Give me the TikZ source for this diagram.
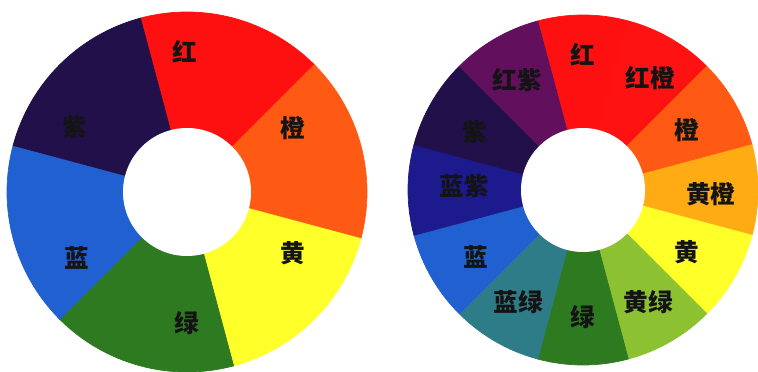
\documentclass[tikz,border=0pt]{standalone}
\usepackage{fontspec}
\newfontfamily\cjk{Noto Sans CJK SC}
\definecolor{hongL}{HTML}{FF1010}
\definecolor{chengL}{HTML}{FF5A14}
\definecolor{huangL}{HTML}{FFFF2A}
\definecolor{lvL}{HTML}{2D7A20}
\definecolor{lanL}{HTML}{2060D0}
\definecolor{ziL}{HTML}{22104A}
\definecolor{hongcheng}{HTML}{FF1212}
\definecolor{huangcheng}{HTML}{FFAC14}
\definecolor{huanglv}{HTML}{8CC232}
\definecolor{lanlv}{HTML}{2E7C88}
\definecolor{lanzi}{HTML}{1C1A8C}
\definecolor{hongzi}{HTML}{62105E}
\tikzset{
  seg/.style={fill=#1, draw=#1, line width=0.4pt},
  lbl/.style={font=\cjk\bfseries\fontsize{14}{14}\selectfont, text=black!92, inner sep=0pt}
}
\begin{document}
\begin{tikzpicture}
\useasboundingbox (0,0) rectangle (15.16,7.42);
% left wheel, six hues
\begin{scope}[shift={(3.74,3.58)}]
\filldraw[seg=hongL] (0,0) -- (105:3.6) arc[start angle=105,end angle=45,radius=3.6] -- cycle;
\filldraw[seg=chengL] (0,0) -- (45:3.6) arc[start angle=45,end angle=-15,radius=3.6] -- cycle;
\filldraw[seg=huangL] (0,0) -- (-15:3.6) arc[start angle=-15,end angle=-75,radius=3.6] -- cycle;
\filldraw[seg=lvL] (0,0) -- (-75:3.6) arc[start angle=-75,end angle=-135,radius=3.6] -- cycle;
\filldraw[seg=lanL] (0,0) -- (-135:3.6) arc[start angle=-135,end angle=-195,radius=3.6] -- cycle;
\filldraw[seg=ziL] (0,0) -- (165:3.6) arc[start angle=165,end angle=105,radius=3.6] -- cycle;
\fill[white] (0,0) circle (1.28);
\node[lbl] (lhong) at (91:2.8) {红};
\node[lbl] (lcheng) at (31:2.48) {橙};
\node[lbl] (lhuang) at (-30:2.44) {黄};
\node[lbl] (llv) at (-90:2.62) {绿};
\node[lbl] (llan) at (-149:2.56) {蓝};
\node[lbl] (lzi) at (150:2.58) {紫};
\end{scope}
% right wheel, twelve hues
\begin{scope}[shift={(11.66,3.62)}]
\filldraw[seg=hongL] (0,0) -- (105:3.5) arc[start angle=105,end angle=75,radius=3.5] -- cycle;
\filldraw[seg=hongcheng] (0,0) -- (75:3.5) arc[start angle=75,end angle=45,radius=3.5] -- cycle;
\filldraw[seg=chengL] (0,0) -- (45:3.5) arc[start angle=45,end angle=15,radius=3.5] -- cycle;
\filldraw[seg=huangcheng] (0,0) -- (15:3.5) arc[start angle=15,end angle=-15,radius=3.5] -- cycle;
\filldraw[seg=huangL] (0,0) -- (-15:3.5) arc[start angle=-15,end angle=-45,radius=3.5] -- cycle;
\filldraw[seg=huanglv] (0,0) -- (-45:3.5) arc[start angle=-45,end angle=-75,radius=3.5] -- cycle;
\filldraw[seg=lvL] (0,0) -- (-75:3.5) arc[start angle=-75,end angle=-105,radius=3.5] -- cycle;
\filldraw[seg=lanlv] (0,0) -- (-105:3.5) arc[start angle=-105,end angle=-135,radius=3.5] -- cycle;
\filldraw[seg=lanL] (0,0) -- (-135:3.5) arc[start angle=-135,end angle=-165,radius=3.5] -- cycle;
\filldraw[seg=lanzi] (0,0) -- (-165:3.5) arc[start angle=-165,end angle=-195,radius=3.5] -- cycle;
\filldraw[seg=ziL] (0,0) -- (165:3.5) arc[start angle=165,end angle=135,radius=3.5] -- cycle;
\filldraw[seg=hongzi] (0,0) -- (135:3.5) arc[start angle=135,end angle=105,radius=3.5] -- cycle;
\fill[white] (0,0) circle (1.24);
\node[lbl] (rhong) at (90:2.7) {红};
\node[lbl] (rhongcheng) at (59:2.62) {红橙};
\node[lbl] (rcheng) at (30:2.4) {橙};
\node[lbl] (rhuangcheng) at (-2:2.56) {黄橙};
\node[lbl] (rhuang) at (-31:2.42) {黄};
\node[lbl] (rhuanglv) at (-60:2.6) {黄绿};
\node[lbl] (rlv) at (-90:2.54) {绿};
\node[lbl] (rlanlv) at (-120:2.6) {蓝绿};
\node[lbl] (rlan) at (-148:2.52) {蓝};
\node[lbl] (rlanzi) at (178:2.38) {蓝紫};
\node[lbl] (rzi) at (152:2.46) {紫};
\node[lbl] (rhongzi) at (121:2.56) {红紫};
\end{scope}
\end{tikzpicture}
\end{document}
